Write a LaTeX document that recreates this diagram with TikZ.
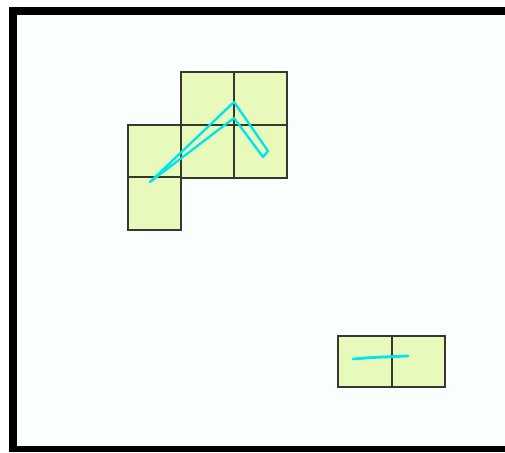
\documentclass[tikz,border=0pt]{standalone}
\usepackage{tikz}
\usetikzlibrary{calc}

\definecolor{paneBg}{RGB}{250,254,254}
\definecolor{cellFill}{RGB}{232,249,188}
\definecolor{gridLine}{RGB}{55,55,45}
\definecolor{trackCyan}{RGB}{0,228,238}

\begin{document}
\begin{tikzpicture}[
        x=1pt, y=-1pt,
        % Define styles
        cell/.style={fill=cellFill, draw=gridLine, line width=1.1pt},
        frame/.style={fill=black},
        track/.style={draw=trackCyan, line width=2.3pt, line join=round, line cap=round}
    ]

    % --- Canvas ---
    \useasboundingbox (0,0) rectangle (505,452);
    \fill[white] (0,0) rectangle (505,452);
    \fill[paneBg] (17,15) rectangle (505,446);

    % --- Frame ---
    \fill[frame] (9,7) rectangle (505,15);
    \fill[frame] (9,7) rectangle (17,452);
    \fill[frame] (9,446) rectangle (505,452);

    % --- Upper block of cells ---
    \foreach \cx/\cy in {181/72, 234/72, 128/125, 181/125, 234/125, 128/177}
        \draw[cell] (\cx,\cy) rectangle ++(53,53);

    % --- Lower pair of cells ---
    \draw[cell] (338,336) rectangle (392,387);
    \draw[cell] (392,336) rectangle (445,387);

    % --- Tracks ---
    \draw[track] (150,182) -- (234,102) -- (268,151) -- (263,157)
        -- (234,118) -- cycle;
    \draw[track, line width=2.8pt] (353,359) -- (372,357.5) -- (408,356);

\end{tikzpicture}
\end{document}
